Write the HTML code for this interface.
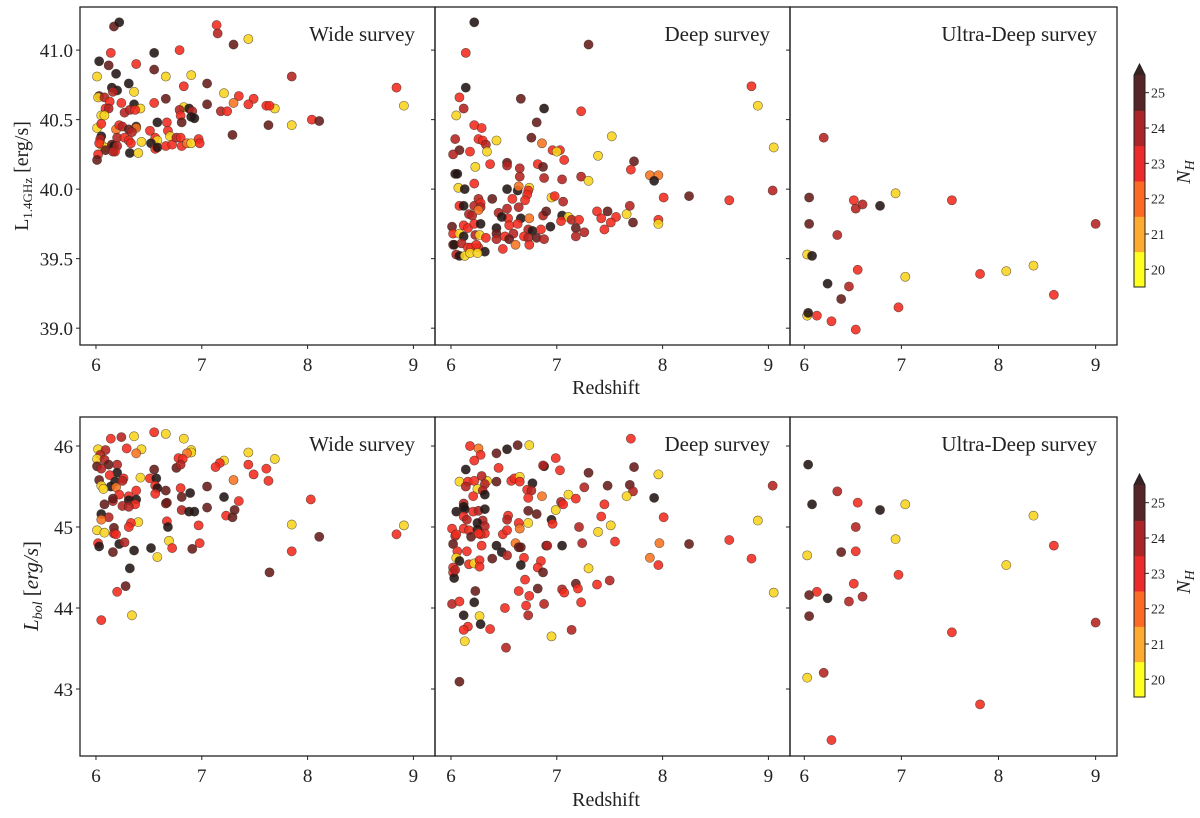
<!DOCTYPE html>
<html><head><meta charset="utf-8"><style>
body{margin:0;background:#fff;}
svg text{font-family:"Liberation Serif","DejaVu Serif",serif;fill:#222;}
</style></head><body>
<svg id="fig" width="1200" height="813" viewBox="0 0 1200 813" xmlns="http://www.w3.org/2000/svg">
<rect width="1200" height="813" fill="#fff"/>
</svg>
<script>
// ---- data: redshift z, luminosity, NH class (0=20,1=21,2=22,3=23,4=24,5=25,6=>25) ----
const wideRadioZ=[6.17,6.22,6.03,6.14,6.12,6.19,6.01,6.55,6.55,6.38,6.79,6.66,6.90,7.14,7.15,7.30,7.44,7.85,8.84,8.91,8.04,8.11,7.85,7.63,7.69,7.61,7.64,7.49,7.44,7.35,7.30,7.21,7.18,7.24,7.05,7.05,6.83,6.83,6.88,6.91,6.79,6.80,6.81,6.90,6.93,6.66,6.55,6.58,6.67,6.36,6.15,6.20,6.16,6.03,6.02,6.08,6.31,6.13,6.24,6.36,6.42,6.09,6.12,6.27,6.32,6.37,6.05,6.08,6.01,6.05,6.38,6.38,6.19,6.22,6.25,6.31,6.34,6.20,6.27,6.31,6.05,6.04,6.43,6.33,6.51,6.56,6.58,6.52,6.56,6.58,6.66,6.68,6.70,6.72,6.76,6.80,6.81,6.86,6.90,6.97,6.98,7.29,6.05,6.08,6.09,6.15,6.17,6.20,6.18,6.16,6.32,6.40,6.02,6.01,6.03];
const wideRadioL=[41.17,41.20,40.92,40.98,40.89,40.83,40.81,40.98,40.86,40.90,41.00,40.81,40.82,41.18,41.12,41.04,41.08,40.81,40.73,40.60,40.50,40.49,40.46,40.46,40.58,40.60,40.60,40.65,40.61,40.67,40.62,40.69,40.56,40.56,40.76,40.61,40.74,40.59,40.58,40.56,40.57,40.53,40.48,40.52,40.51,40.65,40.62,40.48,40.48,40.70,40.73,40.71,40.70,40.67,40.66,40.66,40.76,40.63,40.62,40.61,40.58,40.58,40.58,40.55,40.57,40.57,40.53,40.53,40.44,40.47,40.45,40.44,40.43,40.46,40.45,40.43,40.41,40.37,40.37,40.35,40.38,40.36,40.34,40.33,40.42,40.37,40.35,40.33,40.29,40.30,40.31,40.42,40.38,40.32,40.37,40.37,40.31,40.33,40.33,40.36,40.33,40.39,40.32,40.30,40.28,40.32,40.31,40.31,40.27,40.27,40.26,40.26,40.25,40.21,40.33];
const wideRadioNH=[5,6,6,3,5,6,0,6,5,3,3,0,0,3,4,5,0,4,3,0,3,5,0,5,0,3,3,3,3,3,2,0,4,3,5,5,3,0,6,4,4,3,5,6,6,5,3,6,3,0,6,6,4,5,0,4,6,3,3,6,0,3,4,4,4,3,0,0,0,3,6,2,2,3,4,5,4,4,3,3,6,4,0,3,3,3,0,6,3,6,3,3,0,3,4,3,3,2,0,3,3,5,0,0,5,5,6,4,3,4,6,0,3,5,3];

const deepRadioZ=[6.22,6.14,7.30,6.14,6.08,6.12,6.05,6.66,6.88,6.81,7.23,8.84,8.90,9.05,6.22,6.29,6.04,6.26,6.30,6.33,6.43,6.08,6.02,6.18,6.34,6.76,6.86,6.96,7.03,7.00,7.07,7.52,7.39,7.73,7.70,6.04,6.06,6.23,6.37,6.53,6.53,6.65,6.65,6.82,6.87,6.88,7.05,7.23,7.30,7.88,7.96,7.92,6.22,6.07,6.13,6.53,6.63,6.64,6.74,6.73,8.01,8.25,8.63,9.04,6.08,6.12,6.22,6.26,6.28,6.28,6.39,6.58,6.72,6.70,6.64,6.95,6.98,7.06,6.17,6.20,6.26,6.45,6.53,6.54,6.48,6.66,6.74,6.87,6.90,7.05,7.11,7.14,7.04,7.21,7.38,7.48,7.56,7.66,7.69,7.42,7.51,7.72,7.96,7.96,7.45,6.01,6.12,6.16,6.22,6.28,6.43,6.43,6.55,6.63,6.73,6.77,6.85,6.94,7.18,7.18,7.26,6.02,6.08,6.12,6.23,6.27,6.33,6.43,6.51,6.59,6.69,6.73,6.81,6.88,6.55,6.02,6.03,6.10,6.16,6.19,6.26,6.24,6.32,6.49,6.61,6.74,6.05,6.08,6.13,6.18,6.25];
const deepRadioL=[41.20,40.98,41.04,40.73,40.66,40.58,40.53,40.65,40.58,40.48,40.56,40.74,40.60,40.30,40.46,40.44,40.36,40.36,40.35,40.32,40.35,40.28,40.25,40.27,40.27,40.37,40.33,40.28,40.28,40.27,40.21,40.38,40.24,40.20,40.14,40.11,40.11,40.16,40.18,40.19,40.17,40.15,40.09,40.18,40.16,40.08,40.07,40.09,40.06,40.10,40.10,40.06,40.04,40.01,40.00,40.00,39.99,40.02,40.01,39.99,39.94,39.95,39.92,39.99,39.88,39.88,39.88,39.93,39.90,39.87,39.93,39.93,39.96,39.92,39.87,39.94,39.95,39.91,39.82,39.81,39.85,39.83,39.86,39.79,39.80,39.79,39.79,39.81,39.84,39.81,39.80,39.78,39.77,39.78,39.84,39.84,39.80,39.82,39.88,39.79,39.76,39.76,39.78,39.75,39.71,39.73,39.74,39.72,39.75,39.75,39.72,39.68,39.74,39.75,39.71,39.70,39.71,39.73,39.72,39.66,39.69,39.68,39.68,39.66,39.67,39.67,39.65,39.64,39.66,39.68,39.66,39.65,39.65,39.64,39.64,39.60,39.60,39.61,39.58,39.58,39.58,39.60,39.55,39.57,39.60,39.60,39.53,39.52,39.52,39.54,39.54];
const deepRadioNH=[6,3,5,6,3,4,0,5,6,5,3,3,0,0,3,3,4,3,3,4,0,5,4,3,0,5,2,3,3,0,3,0,0,5,3,6,6,0,3,5,4,4,4,3,5,4,4,4,0,2,2,6,3,0,6,6,6,2,0,3,3,5,3,4,3,6,4,4,3,4,5,3,3,3,4,0,3,4,4,4,2,4,4,3,6,6,2,4,5,6,0,4,3,3,3,5,3,0,4,3,3,5,3,0,3,5,3,3,3,6,6,5,3,3,4,6,3,6,5,4,4,3,0,6,4,0,3,4,3,4,3,4,5,4,5,4,6,4,3,3,3,3,6,3,2,3,4,6,0,0,0];

const udeepRadioZ=[6.20,6.05,6.05,6.34,6.03,6.08,6.51,6.53,6.60,6.78,6.94,7.52,9.00,6.55,7.04,7.81,8.08,8.36,6.24,6.46,6.38,8.57,6.03,6.04,6.13,6.28,6.97,6.53];
const udeepRadioL=[40.37,39.94,39.75,39.67,39.53,39.52,39.92,39.86,39.89,39.88,39.97,39.92,39.75,39.42,39.37,39.39,39.41,39.45,39.32,39.30,39.21,39.24,39.09,39.11,39.09,39.05,39.15,38.99];
const udeepRadioNH=[4,5,5,4,0,6,3,4,4,6,0,3,4,3,0,3,0,0,6,4,5,3,0,6,3,3,3,3];

const wideBolZ=[6.55,6.66,6.36,6.24,6.14,6.83,6.02,6.09,6.29,6.43,6.38,6.90,6.90,6.86,7.44,6.04,6.01,6.08,6.78,6.82,7.69,7.21,7.17,6.01,6.12,6.20,6.05,6.76,6.80,7.44,7.13,7.61,6.55,6.20,6.13,7.49,6.42,6.26,6.51,6.57,6.03,6.18,6.25,7.30,7.63,6.05,6.14,6.19,6.07,6.56,6.58,6.66,6.80,7.05,6.38,6.22,6.56,6.89,6.81,6.31,6.31,6.38,6.16,6.16,7.21,7.35,8.03,6.08,6.37,6.25,6.31,6.66,6.67,7.05,6.81,7.31,6.88,6.93,6.05,6.12,7.23,7.29,6.05,6.40,6.33,6.67,6.31,6.68,6.97,7.85,8.91,6.01,6.17,6.08,6.17,6.19,8.11,8.84,6.02,6.03,6.22,6.27,6.69,6.98,6.52,6.72,6.91,6.36,6.16,7.85,6.58,6.32,7.64,6.28,6.20,6.34,6.05];
const wideBolL=[46.17,46.15,46.12,46.11,46.09,46.09,45.96,45.95,45.97,45.96,45.91,45.95,45.92,45.91,45.92,45.89,45.84,45.83,45.85,45.84,45.84,45.82,45.79,45.75,45.77,45.77,45.72,45.73,45.77,45.77,45.74,45.72,45.71,45.67,45.64,45.65,45.61,45.60,45.60,45.60,45.58,45.56,45.57,45.58,45.57,45.51,45.50,45.49,45.47,45.51,45.48,45.45,45.48,45.50,45.45,45.40,45.41,45.42,45.37,45.38,45.33,45.34,45.32,45.35,45.37,45.32,45.34,45.28,45.28,45.26,45.25,45.29,45.30,45.24,45.21,45.21,45.19,45.19,45.16,45.12,45.14,45.12,45.09,45.06,45.05,45.07,45.00,45.00,45.02,45.03,45.02,44.96,44.99,44.93,44.92,44.91,44.88,44.91,44.80,44.76,44.79,44.81,44.83,44.80,44.74,44.74,44.73,44.71,44.69,44.70,44.63,44.49,44.44,44.27,44.20,43.91,43.85];
const wideBolNH=[3,0,0,4,3,0,0,4,3,0,2,0,0,2,0,4,0,4,3,3,0,0,3,5,5,4,4,5,4,3,3,3,5,6,3,3,0,3,3,6,5,6,4,2,3,0,6,2,0,3,6,5,3,5,3,3,3,6,5,3,6,6,4,5,6,3,3,5,3,4,4,4,5,5,4,5,6,6,6,4,3,5,2,0,3,3,3,6,3,0,0,0,5,0,4,3,5,3,3,6,6,4,0,3,6,3,5,6,5,3,0,6,5,5,3,0,3];

const deepBolZ=[7.70,6.18,6.26,6.28,6.22,6.43,6.53,6.63,6.74,6.99,7.03,6.88,6.87,6.45,7.30,7.73,7.96,6.14,6.08,6.16,6.22,6.34,6.43,6.14,6.29,6.32,6.25,6.30,6.32,6.57,6.60,6.65,6.65,6.77,6.72,6.76,6.73,6.86,7.11,7.04,7.06,7.18,7.26,7.48,7.69,7.72,7.66,7.92,7.45,6.12,6.21,6.05,6.12,6.13,6.21,6.26,6.32,6.12,6.15,6.30,6.25,6.32,6.54,6.53,6.64,6.65,6.73,6.73,6.81,6.99,6.95,6.96,7.42,7.51,8.01,8.90,9.04,7.21,7.39,7.55,7.97,8.25,8.63,7.88,7.96,8.84,9.05,6.01,6.04,6.02,6.05,6.12,6.17,6.19,6.25,6.32,6.28,6.26,6.29,6.43,6.48,6.39,6.53,6.49,6.53,6.61,6.66,6.64,6.69,6.66,6.85,6.82,6.87,6.90,6.91,7.05,7.24,7.30,6.06,6.05,6.08,6.15,6.17,6.22,6.27,6.27,6.02,6.02,6.03,6.04,6.23,6.70,6.82,6.64,6.74,6.88,7.05,7.07,7.18,7.20,7.38,7.50,7.23,6.01,6.08,6.22,6.51,6.71,6.73,6.12,6.27,6.28,6.16,6.12,6.37,7.14,6.95,6.13,6.52,6.08];
const deepBolL=[46.09,46.00,45.97,45.89,45.82,45.91,45.96,46.01,46.01,45.85,45.70,45.75,45.76,45.73,45.67,45.74,45.65,45.71,45.56,45.56,45.57,45.57,45.56,45.50,45.63,45.53,45.47,45.45,45.40,45.57,45.60,45.62,45.56,45.54,45.46,45.45,45.36,45.38,45.40,45.31,45.28,45.35,45.49,45.51,45.52,45.44,45.38,45.36,45.28,45.29,45.38,45.19,45.25,45.22,45.19,45.20,45.22,45.13,45.09,45.08,45.05,45.01,45.14,45.09,45.05,44.98,45.05,45.20,45.16,45.21,45.09,45.04,45.13,45.02,45.12,45.08,45.51,45.00,44.94,44.82,44.80,44.79,44.84,44.62,44.53,44.61,44.19,44.98,44.89,44.79,44.91,44.98,44.96,44.88,44.97,44.92,44.91,44.92,44.77,44.77,44.69,44.61,44.65,44.91,44.96,44.80,44.75,44.75,44.62,44.53,44.58,44.50,44.44,44.77,44.77,44.77,44.80,44.49,44.70,44.62,44.58,44.70,44.54,44.55,44.59,44.51,44.50,44.44,44.37,44.47,44.21,44.35,44.24,44.21,44.15,44.05,44.23,44.19,44.30,44.24,44.29,44.34,44.07,44.05,44.08,44.07,44.00,44.03,43.91,43.91,43.90,43.80,43.77,43.73,43.74,43.73,43.65,43.59,43.51,43.09];
const deepBolNH=[3,3,2,3,3,5,6,5,0,3,3,6,4,3,5,5,0,6,0,3,3,0,5,4,4,4,0,4,6,3,3,0,3,6,3,4,3,2,0,4,3,3,4,5,5,4,0,6,3,4,3,6,6,6,3,4,6,3,4,4,6,4,3,4,3,2,0,5,5,0,6,3,3,0,3,0,4,4,0,3,2,5,3,2,3,3,0,3,4,5,3,3,3,5,6,3,3,3,3,6,6,5,4,3,3,2,5,5,3,6,3,3,5,5,4,6,4,0,3,0,6,3,3,0,3,3,3,3,6,4,5,3,5,3,3,4,4,3,5,3,3,4,3,4,3,6,3,3,4,6,0,6,3,3,3,4,0,0,4,5];

const udeepBolZ=[6.04,6.34,6.08,6.55,6.78,7.04,8.36,6.53,6.94,6.03,6.38,6.53,8.57,8.08,6.97,6.51,6.13,6.05,6.24,6.46,6.60,6.05,7.52,9.00,6.03,6.20,7.81,6.28];
const udeepBolL=[45.77,45.44,45.28,45.30,45.21,45.28,45.14,45.00,44.85,44.65,44.69,44.70,44.77,44.53,44.41,44.30,44.20,44.16,44.12,44.08,44.14,43.90,43.70,43.82,43.14,43.20,42.81,42.37];
const udeepBolNH=[6,4,6,3,6,0,0,4,0,0,5,3,3,0,3,3,3,5,6,4,4,5,3,4,0,4,3,3];

const radioTicks=[39.0,39.5,40.0,40.5,41.0];
const bolTicks=[43,44,45,46];
const zTicks=[6,7,8,9];
const nhTicks=[20,21,22,23,24,25];
const nhColors=["#f8d41c","#fdac30","#f87420","#f2291e","#b52220","#651a19","#211414"];
const cbColors=["#ffff20","#fdac30","#fc6a25","#ec2a2a","#aa2428","#552627"];

const NS="http://www.w3.org/2000/svg";
const svg=document.getElementById('fig');
function mk(tag,attrs,parent){const e=document.createElementNS(NS,tag);for(const k in attrs)e.setAttribute(k,attrs[k]);(parent||svg).appendChild(e);return e;}

function panel(name,x0,x1,y0,y1,zmin,zmax,vmin,vmax,zs,ls,nh,title,yticks,yfmt,showY){
  const g=mk('g',{});
  
  
  const sx=z=>x0+(z-zmin)/(zmax-zmin)*(x1-x0);
  const sy=v=>y1-(v-vmin)/(vmax-vmin)*(y1-y0);
  for(let i=0;i<zs.length;i++){
    const c=mk('circle',{cx:sx(zs[i]),cy:sy(ls[i]),r:4.6,fill:nhColors[nh[i]],'fill-opacity':0.88,stroke:'#3a2a20','stroke-width':0.6,'stroke-opacity':0.7},g);
    
    
  }
  mk('rect',{x:x0,y:y0,width:x1-x0,height:y1-y0,fill:'none',stroke:'#222','stroke-width':1.3},g);
  const t=mk('text',{x:x1-20,y:y0+34,'text-anchor':'end','font-size':21},g);
  t.textContent=title;
  
  
  zTicks.forEach(z=>{
    mk('line',{x1:sx(z),x2:sx(z),y1:y1,y2:y1+4,stroke:'#222','stroke-width':1},g);
    const tl=mk('text',{x:sx(z),y:y1+26,'text-anchor':'middle','font-size':19},g);
    tl.textContent=z;
    
    
  });
  yticks.forEach(v=>{
    mk('line',{x1:x0,x2:x0-4,y1:sy(v),y2:sy(v),stroke:'#222','stroke-width':1},g);
    if(showY){
      const tl=mk('text',{x:x0-7,y:sy(v)+7,'text-anchor':'end','font-size':19},g);
      tl.textContent=yfmt(v);
      
      
    }
  });
}
const f1=v=>v.toFixed(1), f0=v=>String(v);
panel('wide-radio-panel',80,435,7,345,5.849,9.204,38.879,41.310,wideRadioZ,wideRadioL,wideRadioNH,'Wide survey',radioTicks,f1,true);
panel('deep-radio-panel',435,790,7,345,5.849,9.204,38.879,41.310,deepRadioZ,deepRadioL,deepRadioNH,'Deep survey',radioTicks,f1,false);
panel('ultradeep-radio-panel',790,1117,7,345,5.853,9.22,38.879,41.310,udeepRadioZ,udeepRadioL,udeepRadioNH,'Ultra-Deep survey',radioTicks,f1,false);
panel('wide-bol-panel',80,435,417,756,5.849,9.204,42.173,46.358,wideBolZ,wideBolL,wideBolNH,'Wide survey',bolTicks,f0,true);
panel('deep-bol-panel',435,790,417,756,5.849,9.204,42.173,46.358,deepBolZ,deepBolL,deepBolNH,'Deep survey',bolTicks,f0,false);
panel('ultradeep-bol-panel',790,1117,417,756,5.853,9.22,42.173,46.358,udeepBolZ,udeepBolL,udeepBolNH,'Ultra-Deep survey',bolTicks,f0,false);

function colorbar(name,top){
  const g=mk('g',{});
  
  
  const x0=1134,w=11,y0=top+11,h=212,seg=h/6;
  for(let i=0;i<6;i++){
    mk('rect',{x:x0,y:y0+h-(i+1)*seg,width:w,height:seg+0.5,fill:cbColors[i]},g);
  }
  mk('polygon',{points:`${x0},${y0} ${x0+w},${y0} ${x0+w/2},${top}`,fill:'#3a2222'},g);
  mk('polygon',{points:`${x0},${y0+h} ${x0},${y0} ${x0+w/2},${top} ${x0+w},${y0} ${x0+w},${y0+h}`,fill:'none',stroke:'#222','stroke-width':1},g);
  nhTicks.forEach((v,i)=>{
    const y=y0+h-(i+0.5)*seg;
    mk('line',{x1:x0+w,x2:x0+w+4,y1:y,y2:y,stroke:'#222','stroke-width':1},g);
    const t=mk('text',{x:x0+w+6,y:y+5,'font-size':14},g);
    t.textContent=v;
    
    
  });
  const cy=top+108;
  const lab=mk('text',{x:1190,y:cy,'font-size':20,'font-style':'italic','text-anchor':'middle',transform:`rotate(-90 1190 ${cy})`},g);
  lab.innerHTML='N<tspan font-size="14" dy="4">H</tspan>';
  
  
}
colorbar('colorbar-top',64);
colorbar('colorbar-bottom',474);

let t=mk('text',{x:606,y:394,'text-anchor':'middle','font-size':20});
t.textContent='Redshift';


t=mk('text',{x:606,y:806,'text-anchor':'middle','font-size':20});
t.textContent='Redshift';


t=mk('text',{x:28,y:176,'text-anchor':'middle','font-size':20,transform:'rotate(-90 28 176)'});
t.innerHTML='L<tspan font-size="13" dy="4">1.4GHz</tspan><tspan dy="-4"> [erg/s]</tspan>';


t=mk('text',{x:38,y:586,'text-anchor':'middle','font-size':21,'font-style':'italic',transform:'rotate(-90 38 586)'});
t.innerHTML='L<tspan font-size="14" dy="4">bol</tspan><tspan dy="-4" font-style="normal"> [</tspan>erg/s<tspan font-style="normal">]</tspan>';


</script>
</body></html>
